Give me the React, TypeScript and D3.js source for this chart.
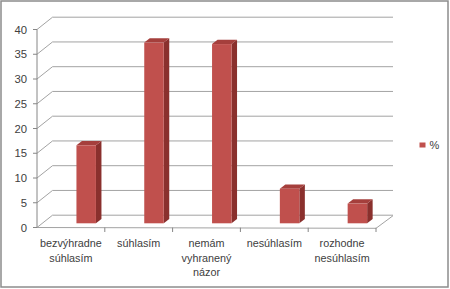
import React, { useEffect } from "react";
import * as d3 from "d3";

const categories: string[][] = [
  ["bezvýhradne", "súhlasím"],
  ["súhlasím"],
  ["nemám", "vyhranený", "názor"],
  ["nesúhlasím"],
  ["rozhodne", "nesúhlasím"],
];
const values: number[] = [15.8, 36.6, 36.3, 7.0, 4.0];
const yTicks: number[] = [0, 5, 10, 15, 20, 25, 30, 35, 40];
const seriesName = "%";

const W = 450;
const H = 289;
const DX = 15.5;
const DY = -12.3;

export default function App() {
  useEffect(() => {
    document.body.style.margin = "0";
  }, []);

  const keys = categories.map((_, i) => String(i));
  const x = d3.scaleBand<string>().domain(keys).range([37, 376]).padding(0);
  const y = d3.scaleLinear().domain([0, 40]).range([227.5, 29.5]);
  const yBar = d3.scaleLinear().domain([0, 40]).range([223.3, 25.8]);

  const barW = 19.5;
  const bdx = 5.5;
  const bdy = -4.3;
  const font = "'Liberation Sans', Arial, sans-serif";
  const textColor = "#404040";
  const grid = "#a3a3a3";

  const x0 = x.range()[0];
  const x1 = x.range()[1];

  return (
    <svg width={W} height={H} style={{ display: "block" }}>
      <rect x={0} y={0} width={W} height={H} fill="#ffffff" />
      <rect x={1} y={1} width={W - 3} height={H - 3} fill="none" stroke="#8c8c8c" strokeWidth={1.5} />
      {/* grid lines on side + back wall */}
      {yTicks.map((t) => {
        const yy = y(t);
        return (
          <path
            key={"g" + t}
            d={`M${x0},${yy} L${x0 + DX},${yy + DY} L${x1 + DX + 1.5},${yy + DY}`}
            fill="none"
            stroke={grid}
            strokeWidth={1}
          />
        );
      })}
      {/* floor */}
      <path
        d={`M${x0},${y(0)} L${x1},${y(0) + 0.8} L${x1 + DX + 1.5},${y(0) + DY + 0.5}`}
        fill="none"
        stroke={grid}
        strokeWidth={1}
      />
      {/* y axis */}
      <line x1={x0} x2={x0} y1={y(40)} y2={y(0)} stroke="#868686" strokeWidth={1} />
      {yTicks.map((t) => (
        <g key={"t" + t}>
          <line x1={x0 - 4} x2={x0} y1={y(t)} y2={y(t)} stroke="#868686" />
          <text
            x={27}
            y={y(t) + 4}
            textAnchor="end"
            fontFamily={font}
            fontSize={11.3}
            fill={textColor}
          >
            {t}
          </text>
        </g>
      ))}
      {/* x ticks */}
      {keys.concat(["end"]).map((k, i) => {
        const xx = k === "end" ? x1 : (x(k) as number);
        if (i === 0) return null;
        return (
          <line key={"xt" + i} x1={xx} x2={xx} y1={y(0) + 0.3 * (i / 5)} y2={y(0) + 4.5} stroke="#868686" />
        );
      })}
      {/* bars */}
      {values.map((v, i) => {
        const cx = (x(keys[i]) as number) + x.bandwidth() / 2 + 15.3;
        const l = cx - barW / 2;
        const r = cx + barW / 2;
        const top = yBar(v);
        const bot = yBar(0);
        return (
          <g key={"b" + i}>
            <path
              d={`M${r},${top} L${r + bdx},${top + bdy} L${r + bdx},${bot + bdy} L${r},${bot} Z`}
              fill="#8a302d"
            />
            <path
              d={`M${l},${top} L${l + bdx},${top + bdy} L${r + bdx},${top + bdy} L${r},${top} Z`}
              fill="#a53f3c"
            />
            <rect x={l} y={top} width={barW} height={bot - top} fill="#c0504d" />
          </g>
        );
      })}
      {/* category labels */}
      {categories.map((lines, i) => {
        const cx = (x(keys[i]) as number) + x.bandwidth() / 2;
        return (
          <text key={"c" + i} textAnchor="middle" fontFamily={font} fontSize={10.8} fill={textColor}>
            {lines.map((ln, j) => (
              <tspan key={j} x={cx} y={247.3 + j * 14.3}>
                {ln}
              </tspan>
            ))}
          </text>
        );
      })}
      {/* legend */}
      <rect x={419.5} y={142.5} width={6} height={5} fill="#c0504d" />
      <text x={429.5} y={148.5} fontFamily={font} fontSize={11} fill={textColor}>
        {seriesName}
      </text>
    </svg>
  );
}
